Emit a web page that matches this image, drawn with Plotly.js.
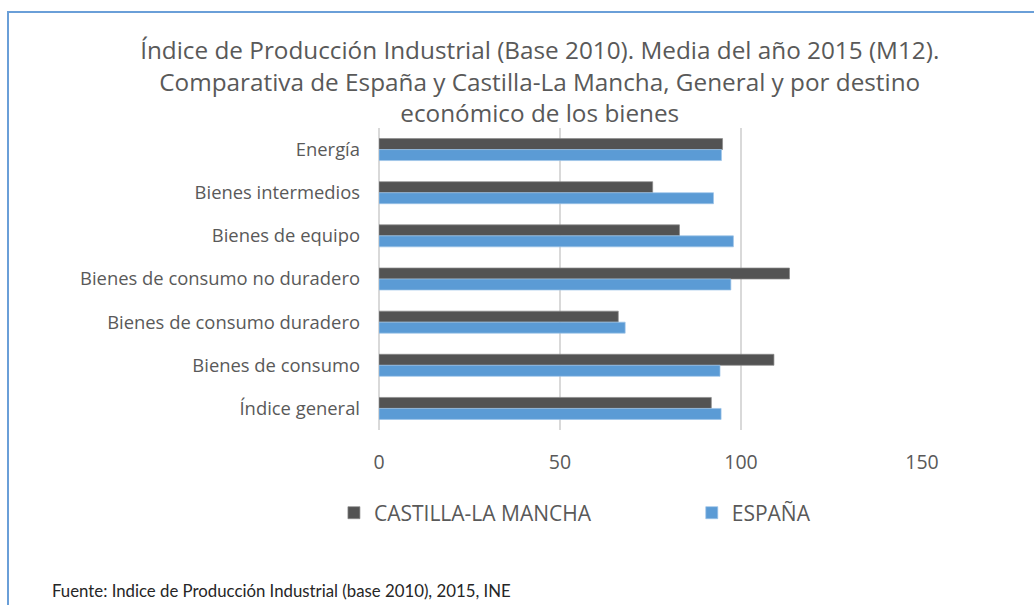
<!DOCTYPE html>
<html>
<head>
<meta charset="utf-8">
<script src="https://cdn.plot.ly/plotly-3.0.1.min.js"></script>
<style>
  body { margin: 0; overflow: hidden; background: #fff; }
  #frame { position: absolute; left: 7px; top: 11px; width: 1100px; height: 700px;
           border: 2px solid #6a9fd8; pointer-events: none; }
  #chart { width: 1034px; height: 605px; }
</style>
</head>
<body>
<div id="chart"></div>
<div id="frame"></div>
<script>
// categorias, de arriba a abajo
let categorias = [
  'Energía',
  'Bienes intermedios',
  'Bienes de equipo',
  'Bienes de consumo no duradero',
  'Bienes de consumo duradero',
  'Bienes de consumo',
  'Índice general'
];
let castillaLaMancha = [94.9, 75.6, 83.0, 113.4, 66.1, 109.1, 91.8];
let espana = [94.6, 92.4, 97.9, 97.2, 68.0, 94.2, 94.5];
let ticksX = [0, 50, 100, 150];

let fuente = '"Open Sans", "Noto Sans", sans-serif';
let fuenteNota = 'Lato, "Noto Sans", sans-serif';

let clm = {
  y: categorias,
  x: castillaLaMancha,
  name: 'CASTILLA-LA MANCHA',
  type: 'bar',
  orientation: 'h',
  legend: 'legend',
  marker: {color: '#535353', line: {color: '#8a8a8a', width: 0.7}},
  hoverinfo: 'x+y'
};
let esp = {
  y: categorias,
  x: espana,
  name: 'ESPAÑA',
  type: 'bar',
  orientation: 'h',
  legend: 'legend2',
  marker: {color: '#5b9bd5', line: {color: '#9cc3e8', width: 0.7}},
  hoverinfo: 'x+y'
};

// las dos entradas de la leyenda se colocan por separado
function leyenda(x){
  return {
    orientation: 'h',
    x: x,
    xanchor: 'left',
    y: -0.275,
    yanchor: 'middle',
    itemwidth: 30,
    font: {size: 21, color: '#595959'},
    itemclick: false,
    itemdoubleclick: false
  };
}

function generate_chart(){
  let layout = {
    width: 1034,
    height: 605,
    paper_bgcolor: 'rgba(0,0,0,0)',
    plot_bgcolor: 'rgba(0,0,0,0)',
    font: {family: fuente, color: '#595959'},
    margin: {l: 378.5, r: 112, t: 128, b: 175},
    title: {
      text: 'Índice de Producción Industrial (Base 2010). Media del año 2015 (M12).<br>' +
            'Comparativa de España y Castilla-La Mancha, General y por destino<br>' +
            'económico de los bienes',
      font: {size: 24.3, color: '#595959', family: fuente},
      x: 0.522,
      xanchor: 'center',
      y: 0.902,
      yanchor: 'top'
    },
    barmode: 'group',
    bargap: 0.49,
    bargroupgap: 0,
    xaxis: {
      range: [0, 150],
      tickvals: ticksX,
      ticktext: ticksX.map(String),
      showgrid: true,
      gridcolor: '#d9d9d9',
      gridwidth: 1.5,
      zeroline: true,
      zerolinecolor: '#d9d9d9',
      zerolinewidth: 1.5,
      showline: false,
      ticks: '',
      ticklabelstandoff: 18,
      tickfont: {size: 19.5, color: '#595959'},
      fixedrange: true
    },
    yaxis: {
      autorange: 'reversed',
      showgrid: false,
      zeroline: false,
      showline: false,
      ticks: '',
      ticklabelstandoff: 18,
      tickfont: {size: 18.4, color: '#595959'},
      fixedrange: true
    },
    legend: leyenda(-0.083),
    legend2: leyenda(0.576),
    showlegend: true,
    annotations: [{
      text: 'Fuente: Indice de Producción Industrial (base 2010), 2015, INE',
      xref: 'paper',
      yref: 'paper',
      x: -0.605,
      xanchor: 'left',
      y: -0.53,
      yanchor: 'middle',
      showarrow: false,
      font: {size: 16.8, color: '#262626', family: fuenteNota}
    }]
  };
  Plotly.newPlot(document.getElementById('chart'), [clm, esp], layout, {displayModeBar: false});
}

window.onload = generate_chart();
</script>
</body>
</html>
